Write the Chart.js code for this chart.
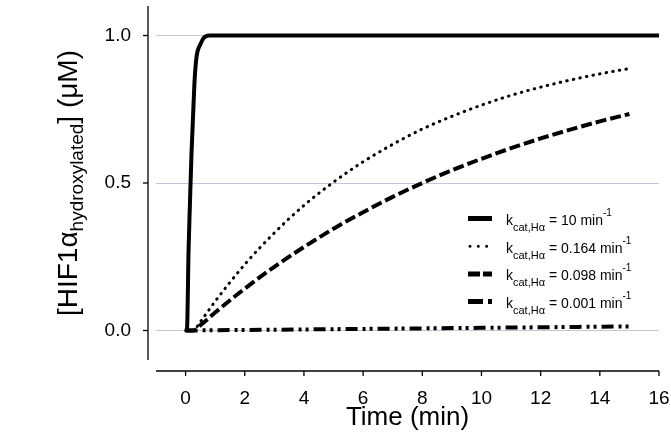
<!DOCTYPE html>
<html>
<head>
<meta charset="utf-8">
<script src="https://cdn.jsdelivr.net/npm/chart.js@4/dist/chart.umd.min.js"></script>
<style>
  html, body { margin: 0; padding: 0; background: #fff; }
  #wrap { width: 671px; height: 444px; }
</style>
</head>
<body>
<div id="wrap"><canvas id="c" width="671" height="444"></canvas></div>
<script>
// Time courses of hydroxylated HIF1α for four kcat values
const FONT = '"Liberation Sans", Arial, Helvetica, sans-serif';

const timeFast = [0, 0.05, 0.1, 0.15, 0.2, 0.25, 0.3, 0.35, 0.4, 0.5, 0.6, 0.7, 0.8, 16];
const hifKcat10 = [0, 0.01, 0.27, 0.44, 0.6, 0.72, 0.84, 0.91, 0.945, 0.97, 0.99, 0.998, 1.0, 1.0];

const timeSlow = [0, 0.25, 0.5, 1, 2, 3, 4, 5, 6, 7, 8, 9, 10, 11, 12, 13, 14, 15];
const hifKcat0164 = [0, 0.0, 0.03, 0.099, 0.224, 0.331, 0.424, 0.503, 0.572, 0.631, 0.683, 0.726, 0.764, 0.797, 0.825, 0.849, 0.870, 0.888];
const hifKcat0098 = [0, 0.0, 0.018, 0.061, 0.142, 0.216, 0.283, 0.345, 0.401, 0.453, 0.5, 0.543, 0.582, 0.618, 0.651, 0.681, 0.709, 0.734];

const timeTrace = [0, 5, 10, 15];
const hifKcat0001 = [0, 0.0045, 0.009, 0.014];

const xTickValues = [0, 2, 4, 6, 8, 10, 12, 14, 16];
const yTickValues = [0, 0.5, 1.0];
const kcatValues = ['10', '0.164', '0.098', '0.001'];

const toPoints = (xs, ys) => xs.map((t, i) => ({ x: t, y: ys[i] }));

const lineBase = {
  borderColor: '#000',
  backgroundColor: '#000',
  pointRadius: 0,
  fill: false,
  cubicInterpolationMode: 'monotone'
};

// Axis lines, tick marks, rotated y label with subscript, and the legend
const decorations = {
  id: 'decorations',
  afterDraw(chart) {
    const { ctx, chartArea: a, scales: { x, y } } = chart;
    ctx.save();
    ctx.strokeStyle = '#000';
    ctx.fillStyle = '#000';
    ctx.lineWidth = 1.3;
    ctx.lineCap = 'butt';
    const seg = (x1, y1, x2, y2) => { ctx.beginPath(); ctx.moveTo(x1, y1); ctx.lineTo(x2, y2); ctx.stroke(); };

    // y axis, detached to the left of the plot area
    const ax = a.left - 8;
    seg(ax, a.top, ax, a.bottom);
    yTickValues.forEach(v => { const py = y.getPixelForValue(v); seg(ax - 5, py, ax, py); });

    // x axis, detached below the plot area
    const ay = a.bottom + 11;
    seg(x.getPixelForValue(x.min), ay, x.getPixelForValue(x.max), ay);
    xTickValues.forEach(v => { const px = x.getPixelForValue(v); seg(px, ay, px, ay + 5); });

    // y axis title: [HIF1α_hydroxylated] (μM)
    const parts = [
      { text: '[HIF1\u03B1', size: 28, dy: 0 },
      { text: 'hydroxylated', size: 19, dy: 6 },
      { text: '] (\u03BCM)', size: 28, dy: 0 }
    ];
    let total = 0;
    parts.forEach(p => { ctx.font = p.size + 'px ' + FONT; p.w = ctx.measureText(p.text).width; total += p.w; });
    ctx.translate(77, (a.top + a.bottom) / 2);
    ctx.rotate(-Math.PI / 2);
    ctx.textBaseline = 'alphabetic';
    ctx.textAlign = 'left';
    let cx = -total / 2;
    parts.forEach(p => { ctx.font = p.size + 'px ' + FONT; ctx.fillText(p.text, cx, p.dy); cx += p.w; });
    ctx.setTransform(1, 0, 0, 1, 0, 0);

    // legend
    const sx0 = 468, sx1 = 492, tx = 506, base0 = 225, gap = 27.7;
    const samples = [
      { width: 5, dash: [], cap: 'butt' },
      { width: 3, dash: [0, 8.3], cap: 'round' },
      { width: 5, dash: [12, 3], cap: 'butt' },
      { width: 5, dash: [15, 5, 4, 10], cap: 'butt' }
    ];
    samples.forEach((s, i) => {
      const base = base0 + i * gap;
      const ly = base - 6.5;
      ctx.lineWidth = s.width;
      ctx.lineCap = s.cap;
      ctx.setLineDash(s.dash);
      const startX = s.cap === 'round' ? sx0 + 2 : sx0;
      seg(startX, ly, sx1, ly);
      ctx.setLineDash([]);

      let px = tx;
      ctx.font = '14px ' + FONT;
      ctx.fillText('k', px, base); px += ctx.measureText('k').width;
      ctx.font = '11px ' + FONT;
      ctx.fillText('cat,H\u03B1', px, base + 6); px += ctx.measureText('cat,H\u03B1').width;
      ctx.font = '14px ' + FONT;
      const mid = ' = ' + kcatValues[i] + ' min';
      ctx.fillText(mid, px, base); px += ctx.measureText(mid).width;
      ctx.font = '10px ' + FONT;
      ctx.fillText('-1', px, base - 9);
    });
    ctx.restore();
  }
};

new Chart(document.getElementById('c'), {
  type: 'line',
  data: {
    datasets: [
      { ...lineBase, label: 'kcat = 10', data: toPoints(timeFast, hifKcat10), borderWidth: 4 },
      { ...lineBase, label: 'kcat = 0.164', data: toPoints(timeSlow, hifKcat0164), borderWidth: 3, borderDash: [0.5, 6.2], borderCapStyle: 'round' },
      { ...lineBase, label: 'kcat = 0.098', data: toPoints(timeSlow, hifKcat0098), borderWidth: 4, borderDash: [11, 4] },
      { ...lineBase, label: 'kcat = 0.001', data: toPoints(timeTrace, hifKcat0001), borderWidth: 4, borderDash: [12, 5, 3, 4, 3, 5] }
    ]
  },
  options: {
    responsive: false,
    animation: false,
    devicePixelRatio: 1,
    layout: { padding: { top: 6, right: 12, bottom: 0, left: 0 } },
    plugins: { legend: { display: false }, tooltip: { enabled: false } },
    scales: {
      x: {
        type: 'linear',
        min: -1,
        max: 16,
        afterBuildTicks: s => { s.ticks = xTickValues.map(v => ({ value: v })); },
        afterFit: s => { s.height = 84; s.paddingLeft = 0; s.paddingRight = 0; },
        grid: { display: false, drawTicks: false },
        border: { display: false },
        ticks: { color: '#000', font: { family: FONT, size: 19 }, padding: 27, maxRotation: 0, autoSkip: false },
        title: { display: true, text: 'Time (min)', color: '#000', font: { family: FONT, size: 26 }, padding: { top: 0, bottom: 11 } }
      },
      y: {
        type: 'linear',
        min: -0.1,
        max: 1.1,
        afterBuildTicks: s => { s.ticks = yTickValues.map(v => ({ value: v })); },
        afterFit: s => { s.width = 156; s.paddingTop = 0; s.paddingBottom = 0; },
        grid: { color: '#c4c4da', lineWidth: 1, drawTicks: false },
        border: { display: false },
        ticks: { color: '#000', font: { family: FONT, size: 19 }, padding: 25, callback: v => v.toFixed(1) }
      }
    }
  },
  plugins: [decorations]
});
</script>
</body>
</html>
